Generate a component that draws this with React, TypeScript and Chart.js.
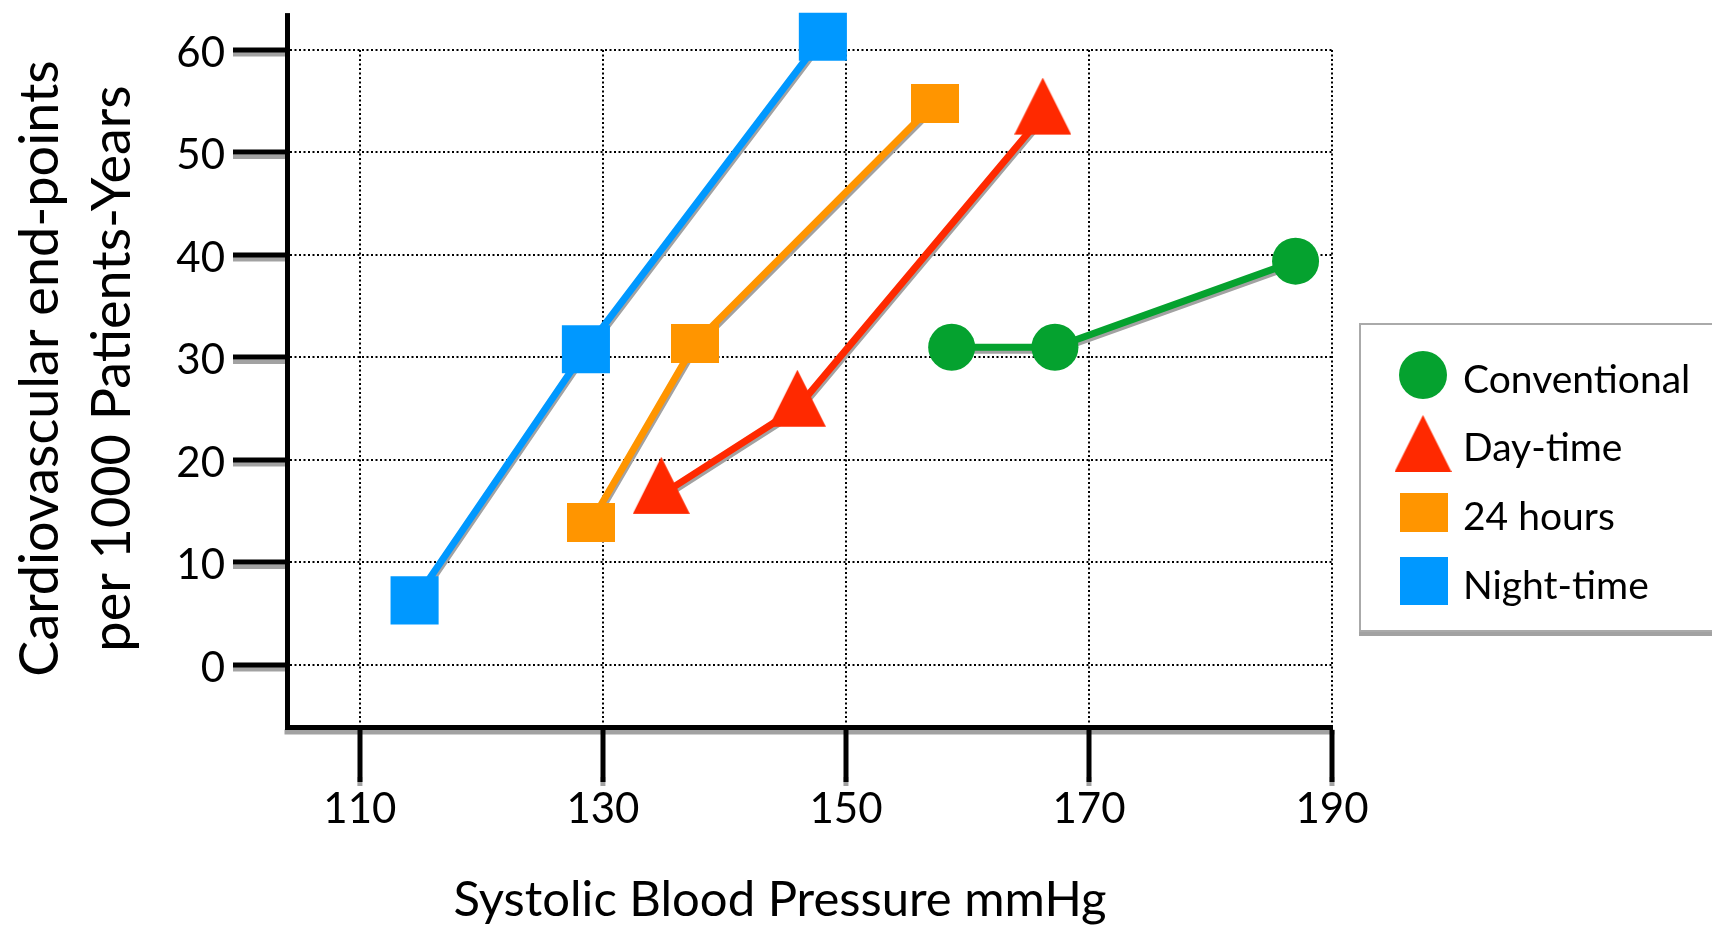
import React, { useEffect, useRef } from 'react';
import { Chart, registerables } from 'chart.js';

Chart.register(...registerables);

// ---------------- data ----------------
const SERIES_NAMES = ['Conventional', 'Day-time', '24 hours', 'Night-time'];
const CONVENTIONAL_X = [158.7, 167.2, 187.0];
const CONVENTIONAL_Y = [31.0, 31.0, 39.4];
const DAYTIME_X = [134.8, 146.0, 166.2];
const DAYTIME_Y = [16.6, 25.1, 53.6];
const HOURS24_X = [129.0, 137.6, 157.3];
const HOURS24_Y = [13.9, 31.4, 54.8];
const NIGHT_X = [114.5, 128.6, 148.1];
const NIGHT_Y = [6.3, 30.8, 61.3];
const X_TICKS = [110, 130, 150, 170, 190];
const Y_TICKS = [0, 10, 20, 30, 40, 50, 60];
const X_TITLE = 'Systolic Blood Pressure mmHg';
const Y_TITLE = ['Cardiovascular end-points', 'per 1000 Patients-Years'];

// ---------------- styling ----------------
const X_MIN = 104;
const X_MAX = 190;
const Y_MIN = -6.05;
const Y_MAX = 60;
const Y_AXIS_TOP = 63.6;
const FONT = 'Lato, "Open Sans", sans-serif';
const GREEN = '#05a22f';
const RED = '#ff2900';
const ORANGE = '#ff9500';
const BLUE = '#0098ff';
const SHADOW = '#a2a2a2';
const W = 1712;
const H = 926;

function makeTriangle(color: string, w: number, h: number) {
  const c = document.createElement('canvas');
  const cy = (h * 2) / 3;
  c.width = Math.ceil(w);
  c.height = Math.ceil(cy * 2);
  const g = c.getContext('2d')!;
  g.fillStyle = color;
  g.beginPath();
  g.moveTo(w / 2, 0);
  g.lineTo(w, h);
  g.lineTo(0, h);
  g.closePath();
  g.fill();
  return c;
}

function makeRect(color: string, w: number, h: number) {
  const c = document.createElement('canvas');
  c.width = w;
  c.height = h;
  const g = c.getContext('2d')!;
  g.fillStyle = color;
  g.fillRect(0, 0, w, h);
  return c;
}

function pts(xs: number[], ys: number[]) {
  return xs.map((x, i) => ({ x, y: ys[i] }));
}

export default function App() {
  const ref = useRef<HTMLCanvasElement>(null);

  useEffect(() => {
    const canvas = ref.current!;
    const triangle = makeTriangle(RED, 57, 57);
    const orangeRect = makeRect(ORANGE, 48, 39);

    const series = [
      { name: SERIES_NAMES[0], color: GREEN, data: pts(CONVENTIONAL_X, CONVENTIONAL_Y), style: 'circle' as any, radius: 23.5 },
      { name: SERIES_NAMES[1], color: RED, data: pts(DAYTIME_X, DAYTIME_Y), style: triangle as any, radius: 30 },
      { name: SERIES_NAMES[2], color: ORANGE, data: pts(HOURS24_X, HOURS24_Y), style: orangeRect as any, radius: 30 },
      { name: SERIES_NAMES[3], color: BLUE, data: pts(NIGHT_X, NIGHT_Y), style: 'rect' as any, radius: 34 },
    ];

    const markerSets = series.map((s) => ({
      label: s.name,
      data: s.data,
      showLine: false,
      pointStyle: s.style,
      pointRadius: s.radius,
      pointHoverRadius: s.radius,
      pointBackgroundColor: s.color,
      pointBorderWidth: 0,
      backgroundColor: s.color,
      borderColor: s.color,
      borderWidth: 0,
      order: 0,
      clip: false,
      isMarker: true,
    }));
    const lineSets = series.map((s) => ({
      label: s.name + ' line',
      data: s.data,
      showLine: true,
      pointRadius: 0,
      pointHoverRadius: 0,
      borderColor: s.color,
      borderWidth: 7,
      tension: 0,
      fill: false,
      order: 1,
      clip: false,
      isLine: true,
    }));

    const decorPlugin = {
      id: 'decor',
      beforeDraw(chart: any) {
        const { ctx } = chart;
        const x = chart.scales.x;
        const y = chart.scales.y;
        ctx.save();
        ctx.fillStyle = SHADOW;
        Y_TICKS.forEach((v) => {
          const py = y.getPixelForValue(v);
          ctx.fillRect(y.right - 54, py + 2, 52, 4.5);
        });
        ctx.fillRect(x.left - 2.5, x.top + 2.5, x.right - x.left + 5, 5);
        X_TICKS.forEach((v) => {
          const px = x.getPixelForValue(v);
          ctx.fillRect(px - 2.5, x.top + 50, 5, 9);
        });
        ctx.restore();
      },
      beforeDatasetDraw(chart: any, args: any) {
        const ds = chart.data.datasets[args.index];
        if (ds.isLine) {
          const { ctx } = chart;
          ctx.save();
          ctx.shadowColor = SHADOW;
          ctx.shadowOffsetX = 1;
          ctx.shadowOffsetY = 3;
          ctx.shadowBlur = 0;
        }
      },
      afterDatasetDraw(chart: any, args: any) {
        const ds = chart.data.datasets[args.index];
        if (ds.isLine) chart.ctx.restore();
      },
      afterDraw(chart: any) {
        const { ctx } = chart;
        const y = chart.scales.y;
        ctx.save();
        // y axis extension above the top grid line
        ctx.fillStyle = '#000';
        const topPx = y.getPixelForValue(Y_AXIS_TOP);
        ctx.fillRect(y.right - 2.5 + 0.5, topPx, 5, y.top - topPx + 2);

        // axis titles
        ctx.fillStyle = '#000';
        ctx.font = `49px ${FONT}`;
        ctx.textAlign = 'center';
        ctx.textBaseline = 'alphabetic';
        ctx.fillText(X_TITLE, 780, 916);

        ctx.save();
        ctx.font = `54px ${FONT}`;
        ctx.translate(0, 368.5);
        ctx.rotate(-Math.PI / 2);
        ctx.fillText(Y_TITLE[0], 0, 58);
        ctx.fillText(Y_TITLE[1], 0, 130);
        ctx.restore();

        // legend box
        const bx = 1360;
        const by = 324;
        const bh = 307;
        ctx.fillStyle = SHADOW;
        ctx.fillRect(bx - 1, by + bh, W, 5);
        ctx.fillStyle = '#fff';
        ctx.fillRect(bx, by, W, bh);
        ctx.strokeStyle = '#aaaaaa';
        ctx.lineWidth = 2;
        ctx.strokeRect(bx, by, W, bh);

        // legend items
        const rowY = [375, 443.5, 512.5, 581];
        const cx = 1424;
        series.forEach((s, i) => {
          const cy = rowY[i];
          ctx.fillStyle = s.color;
          if (s.style === 'circle') {
            ctx.beginPath();
            ctx.arc(cx - 1, cy, 24, 0, Math.PI * 2);
            ctx.fill();
          } else if (s.style === 'rect') {
            ctx.fillRect(cx - 24, cy - 24, 48, 48);
          } else if (s.style === triangle) {
            ctx.drawImage(triangle, cx - 1 - 28.5, cy - 28.5);
          } else {
            ctx.drawImage(s.style, cx - 24, cy - 19.5);
          }
          ctx.fillStyle = '#000';
          ctx.font = `39px ${FONT}`;
          ctx.textAlign = 'left';
          ctx.textBaseline = 'alphabetic';
          ctx.fillText(s.name, 1463, cy + 17.5);
        });
        ctx.restore();
      },
    };

    const chart = new Chart(canvas, {
      type: 'line',
      data: { datasets: [...markerSets, ...lineSets] as any },
      options: {
        responsive: false,
        animation: false,
        events: [],
        layout: { padding: { left: 0, top: 50, right: W - 1332, bottom: 0 } },
        plugins: {
          legend: { display: false },
          tooltip: { enabled: false },
          title: { display: false },
        },
        scales: {
          x: {
            type: 'linear',
            min: X_MIN,
            max: X_MAX,
            afterBuildTicks: (s: any) => {
              s.ticks = X_TICKS.map((v) => ({ value: v }));
            },
            afterFit: (s: any) => {
              s.height = H - 727;
            },
            grid: {
              color: '#000',
              lineWidth: 2,
              drawTicks: true,
              tickLength: 55,
              tickWidth: 5,
              tickColor: '#000',
            },
            border: { display: true, color: '#000', width: 5, dash: [2, 2.5] },
            ticks: {
              autoSkip: false,
              maxRotation: 0,
              padding: 2.5,
              color: '#000',
              font: { family: FONT, size: 42 },
            },
          },
          y: {
            type: 'linear',
            min: Y_MIN,
            max: Y_MAX,
            afterBuildTicks: (s: any) => {
              s.ticks = Y_TICKS.map((v) => ({ value: v }));
            },
            afterFit: (s: any) => {
              s.width = 287;
            },
            grid: {
              color: '#000',
              lineWidth: 2,
              drawTicks: true,
              tickLength: 54,
              tickWidth: 5,
              tickColor: '#000',
            },
            border: { display: true, color: '#000', width: 5, dash: [2, 2.5] },
            ticks: {
              padding: 8,
              labelOffset: 3,
              color: '#000',
              font: { family: FONT, size: 42 },
            },
          },
        },
      } as any,
      plugins: [decorPlugin],
    });

    let alive = true;
    if ((document as any).fonts && (document as any).fonts.load) {
      Promise.all([
        (document as any).fonts.load(`42px Lato`),
        (document as any).fonts.load(`54px Lato`),
      ]).then(() => {
        if (alive) chart.update();
      }).catch(() => {});
    }

    return () => {
      alive = false;
      chart.destroy();
    };
  }, []);

  return (
    <canvas
      ref={ref}
      width={W}
      height={H}
      style={{ position: 'fixed', left: 0, top: 0, width: W, height: H, display: 'block' }}
    />
  );
}
